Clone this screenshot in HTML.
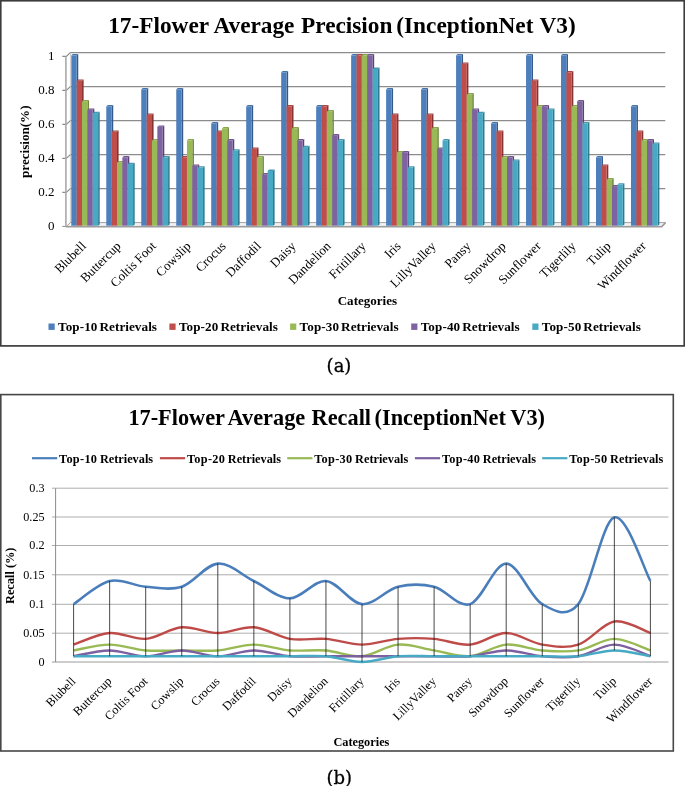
<!DOCTYPE html>
<html lang="en"><head><meta charset="utf-8"><title>17-Flower Average Precision and Recall (InceptionNet V3)</title>
<style>html,body{margin:0;padding:0;background:#fff}svg{display:block}text{font-family:"Liberation Serif","DejaVu Serif",serif;fill:#000}.b{font-weight:bold}</style>
</head><body>
<svg width="685" height="786" viewBox="0 0 685 786">
<rect x="0" y="0" width="685" height="786" fill="#fff"/>
<g id="chart-a">
<rect x="0.75" y="0.75" width="683.5" height="345.15" fill="#fff" stroke="#3c3c3c" stroke-width="1.7"/>
<text class="b" y="32.5" font-size="23.3"><tspan x="108.2">17-Flower </tspan><tspan x="213.4">Average </tspan><tspan x="301">Precision </tspan><tspan x="396.3">(InceptionNet </tspan><tspan x="539.5">V3)</tspan></text>
<path d="M62.3 226.40H66.3" fill="none" stroke="#8c8c8c" stroke-width="1"/>
<path d="M62.3 192.40H66.3L70.4 188.60H665.3" fill="none" stroke="#8c8c8c" stroke-width="1.1"/>
<path d="M62.3 158.40H66.3L70.4 154.60H665.3" fill="none" stroke="#8c8c8c" stroke-width="1.1"/>
<path d="M62.3 124.40H66.3L70.4 120.60H665.3" fill="none" stroke="#8c8c8c" stroke-width="1.1"/>
<path d="M62.3 90.40H66.3L70.4 86.60H665.3" fill="none" stroke="#8c8c8c" stroke-width="1.1"/>
<path d="M62.3 56.40H66.3L70.4 52.60H665.3" fill="none" stroke="#8c8c8c" stroke-width="1.1"/>
<path d="M65.89999999999999 56.40V226.4" stroke="#a9a9a9" stroke-width="1.6" fill="none"/>
<path d="M70.4 52.60V222.6" stroke="#c4c4c4" stroke-width="0.8" fill="none"/>
<path d="M66.3 226.4L70.4 222.6H665.3L661.4 226.4Z" fill="#f2f2f2" stroke="#8c8c8c" stroke-width="0.8"/>
<path d="M65.8 226.8H661.6999999999999L665.5999999999999 222.6" fill="none" stroke="#9c9c9c" stroke-width="1.6"/>
<path d="M76.66 55.30l1.6 -1.3V224.40l-1.6 1.3Z" fill="#34598a"/>
<path d="M71.30 55.30l1.6 -1.3h5.36l-1.6 1.3Z" fill="#4472a9"/>
<rect x="71.30" y="55.30" width="5.36" height="170.40" fill="#4c7fbc"/>
<path d="M82.02 80.80l1.6 -1.3V224.40l-1.6 1.3Z" fill="#873331"/>
<path d="M76.66 80.80l1.6 -1.3h5.36l-1.6 1.3Z" fill="#a84340"/>
<rect x="76.66" y="80.80" width="5.36" height="144.90" fill="#bf4e4b"/>
<path d="M87.38 101.20l1.6 -1.3V224.40l-1.6 1.3Z" fill="#6b8638"/>
<path d="M82.02 101.20l1.6 -1.3h5.36l-1.6 1.3Z" fill="#88a54a"/>
<rect x="82.02" y="101.20" width="5.36" height="124.50" fill="#99b956"/>
<path d="M92.74 109.70l1.6 -1.3V224.40l-1.6 1.3Z" fill="#584374"/>
<path d="M87.38 109.70l1.6 -1.3h5.36l-1.6 1.3Z" fill="#6f5690"/>
<rect x="87.38" y="109.70" width="5.36" height="116.00" fill="#7e62a1"/>
<path d="M98.10 113.10l1.6 -1.3V224.40l-1.6 1.3Z" fill="#2f7a8f"/>
<path d="M92.74 113.10l1.6 -1.3h5.36l-1.6 1.3Z" fill="#3f97b0"/>
<rect x="92.74" y="113.10" width="5.36" height="112.60" fill="#48a9c4"/>
<path d="M111.64 106.30l1.6 -1.3V224.40l-1.6 1.3Z" fill="#34598a"/>
<path d="M106.28 106.30l1.6 -1.3h5.36l-1.6 1.3Z" fill="#4472a9"/>
<rect x="106.28" y="106.30" width="5.36" height="119.40" fill="#4c7fbc"/>
<path d="M117.00 131.80l1.6 -1.3V224.40l-1.6 1.3Z" fill="#873331"/>
<path d="M111.64 131.80l1.6 -1.3h5.36l-1.6 1.3Z" fill="#a84340"/>
<rect x="111.64" y="131.80" width="5.36" height="93.90" fill="#bf4e4b"/>
<path d="M122.36 162.40l1.6 -1.3V224.40l-1.6 1.3Z" fill="#6b8638"/>
<path d="M117.00 162.40l1.6 -1.3h5.36l-1.6 1.3Z" fill="#88a54a"/>
<rect x="117.00" y="162.40" width="5.36" height="63.30" fill="#99b956"/>
<path d="M127.72 157.30l1.6 -1.3V224.40l-1.6 1.3Z" fill="#584374"/>
<path d="M122.36 157.30l1.6 -1.3h5.36l-1.6 1.3Z" fill="#6f5690"/>
<rect x="122.36" y="157.30" width="5.36" height="68.40" fill="#7e62a1"/>
<path d="M133.08 164.10l1.6 -1.3V224.40l-1.6 1.3Z" fill="#2f7a8f"/>
<path d="M127.72 164.10l1.6 -1.3h5.36l-1.6 1.3Z" fill="#3f97b0"/>
<rect x="127.72" y="164.10" width="5.36" height="61.60" fill="#48a9c4"/>
<path d="M146.62 89.30l1.6 -1.3V224.40l-1.6 1.3Z" fill="#34598a"/>
<path d="M141.26 89.30l1.6 -1.3h5.36l-1.6 1.3Z" fill="#4472a9"/>
<rect x="141.26" y="89.30" width="5.36" height="136.40" fill="#4c7fbc"/>
<path d="M151.98 114.80l1.6 -1.3V224.40l-1.6 1.3Z" fill="#873331"/>
<path d="M146.62 114.80l1.6 -1.3h5.36l-1.6 1.3Z" fill="#a84340"/>
<rect x="146.62" y="114.80" width="5.36" height="110.90" fill="#bf4e4b"/>
<path d="M157.34 140.30l1.6 -1.3V224.40l-1.6 1.3Z" fill="#6b8638"/>
<path d="M151.98 140.30l1.6 -1.3h5.36l-1.6 1.3Z" fill="#88a54a"/>
<rect x="151.98" y="140.30" width="5.36" height="85.40" fill="#99b956"/>
<path d="M162.70 126.70l1.6 -1.3V224.40l-1.6 1.3Z" fill="#584374"/>
<path d="M157.34 126.70l1.6 -1.3h5.36l-1.6 1.3Z" fill="#6f5690"/>
<rect x="157.34" y="126.70" width="5.36" height="99.00" fill="#7e62a1"/>
<path d="M168.06 157.30l1.6 -1.3V224.40l-1.6 1.3Z" fill="#2f7a8f"/>
<path d="M162.70 157.30l1.6 -1.3h5.36l-1.6 1.3Z" fill="#3f97b0"/>
<rect x="162.70" y="157.30" width="5.36" height="68.40" fill="#48a9c4"/>
<path d="M181.60 89.30l1.6 -1.3V224.40l-1.6 1.3Z" fill="#34598a"/>
<path d="M176.24 89.30l1.6 -1.3h5.36l-1.6 1.3Z" fill="#4472a9"/>
<rect x="176.24" y="89.30" width="5.36" height="136.40" fill="#4c7fbc"/>
<path d="M186.96 157.30l1.6 -1.3V224.40l-1.6 1.3Z" fill="#873331"/>
<path d="M181.60 157.30l1.6 -1.3h5.36l-1.6 1.3Z" fill="#a84340"/>
<rect x="181.60" y="157.30" width="5.36" height="68.40" fill="#bf4e4b"/>
<path d="M192.32 140.30l1.6 -1.3V224.40l-1.6 1.3Z" fill="#6b8638"/>
<path d="M186.96 140.30l1.6 -1.3h5.36l-1.6 1.3Z" fill="#88a54a"/>
<rect x="186.96" y="140.30" width="5.36" height="85.40" fill="#99b956"/>
<path d="M197.68 165.80l1.6 -1.3V224.40l-1.6 1.3Z" fill="#584374"/>
<path d="M192.32 165.80l1.6 -1.3h5.36l-1.6 1.3Z" fill="#6f5690"/>
<rect x="192.32" y="165.80" width="5.36" height="59.90" fill="#7e62a1"/>
<path d="M203.04 167.50l1.6 -1.3V224.40l-1.6 1.3Z" fill="#2f7a8f"/>
<path d="M197.68 167.50l1.6 -1.3h5.36l-1.6 1.3Z" fill="#3f97b0"/>
<rect x="197.68" y="167.50" width="5.36" height="58.20" fill="#48a9c4"/>
<path d="M216.58 123.30l1.6 -1.3V224.40l-1.6 1.3Z" fill="#34598a"/>
<path d="M211.22 123.30l1.6 -1.3h5.36l-1.6 1.3Z" fill="#4472a9"/>
<rect x="211.22" y="123.30" width="5.36" height="102.40" fill="#4c7fbc"/>
<path d="M221.94 131.80l1.6 -1.3V224.40l-1.6 1.3Z" fill="#873331"/>
<path d="M216.58 131.80l1.6 -1.3h5.36l-1.6 1.3Z" fill="#a84340"/>
<rect x="216.58" y="131.80" width="5.36" height="93.90" fill="#bf4e4b"/>
<path d="M227.30 128.40l1.6 -1.3V224.40l-1.6 1.3Z" fill="#6b8638"/>
<path d="M221.94 128.40l1.6 -1.3h5.36l-1.6 1.3Z" fill="#88a54a"/>
<rect x="221.94" y="128.40" width="5.36" height="97.30" fill="#99b956"/>
<path d="M232.66 140.30l1.6 -1.3V224.40l-1.6 1.3Z" fill="#584374"/>
<path d="M227.30 140.30l1.6 -1.3h5.36l-1.6 1.3Z" fill="#6f5690"/>
<rect x="227.30" y="140.30" width="5.36" height="85.40" fill="#7e62a1"/>
<path d="M238.02 150.50l1.6 -1.3V224.40l-1.6 1.3Z" fill="#2f7a8f"/>
<path d="M232.66 150.50l1.6 -1.3h5.36l-1.6 1.3Z" fill="#3f97b0"/>
<rect x="232.66" y="150.50" width="5.36" height="75.20" fill="#48a9c4"/>
<path d="M251.56 106.30l1.6 -1.3V224.40l-1.6 1.3Z" fill="#34598a"/>
<path d="M246.20 106.30l1.6 -1.3h5.36l-1.6 1.3Z" fill="#4472a9"/>
<rect x="246.20" y="106.30" width="5.36" height="119.40" fill="#4c7fbc"/>
<path d="M256.92 148.80l1.6 -1.3V224.40l-1.6 1.3Z" fill="#873331"/>
<path d="M251.56 148.80l1.6 -1.3h5.36l-1.6 1.3Z" fill="#a84340"/>
<rect x="251.56" y="148.80" width="5.36" height="76.90" fill="#bf4e4b"/>
<path d="M262.28 157.30l1.6 -1.3V224.40l-1.6 1.3Z" fill="#6b8638"/>
<path d="M256.92 157.30l1.6 -1.3h5.36l-1.6 1.3Z" fill="#88a54a"/>
<rect x="256.92" y="157.30" width="5.36" height="68.40" fill="#99b956"/>
<path d="M267.64 174.30l1.6 -1.3V224.40l-1.6 1.3Z" fill="#584374"/>
<path d="M262.28 174.30l1.6 -1.3h5.36l-1.6 1.3Z" fill="#6f5690"/>
<rect x="262.28" y="174.30" width="5.36" height="51.40" fill="#7e62a1"/>
<path d="M273.00 170.90l1.6 -1.3V224.40l-1.6 1.3Z" fill="#2f7a8f"/>
<path d="M267.64 170.90l1.6 -1.3h5.36l-1.6 1.3Z" fill="#3f97b0"/>
<rect x="267.64" y="170.90" width="5.36" height="54.80" fill="#48a9c4"/>
<path d="M286.54 72.30l1.6 -1.3V224.40l-1.6 1.3Z" fill="#34598a"/>
<path d="M281.18 72.30l1.6 -1.3h5.36l-1.6 1.3Z" fill="#4472a9"/>
<rect x="281.18" y="72.30" width="5.36" height="153.40" fill="#4c7fbc"/>
<path d="M291.90 106.30l1.6 -1.3V224.40l-1.6 1.3Z" fill="#873331"/>
<path d="M286.54 106.30l1.6 -1.3h5.36l-1.6 1.3Z" fill="#a84340"/>
<rect x="286.54" y="106.30" width="5.36" height="119.40" fill="#bf4e4b"/>
<path d="M297.26 128.40l1.6 -1.3V224.40l-1.6 1.3Z" fill="#6b8638"/>
<path d="M291.90 128.40l1.6 -1.3h5.36l-1.6 1.3Z" fill="#88a54a"/>
<rect x="291.90" y="128.40" width="5.36" height="97.30" fill="#99b956"/>
<path d="M302.62 140.30l1.6 -1.3V224.40l-1.6 1.3Z" fill="#584374"/>
<path d="M297.26 140.30l1.6 -1.3h5.36l-1.6 1.3Z" fill="#6f5690"/>
<rect x="297.26" y="140.30" width="5.36" height="85.40" fill="#7e62a1"/>
<path d="M307.98 147.10l1.6 -1.3V224.40l-1.6 1.3Z" fill="#2f7a8f"/>
<path d="M302.62 147.10l1.6 -1.3h5.36l-1.6 1.3Z" fill="#3f97b0"/>
<rect x="302.62" y="147.10" width="5.36" height="78.60" fill="#48a9c4"/>
<path d="M321.52 106.30l1.6 -1.3V224.40l-1.6 1.3Z" fill="#34598a"/>
<path d="M316.16 106.30l1.6 -1.3h5.36l-1.6 1.3Z" fill="#4472a9"/>
<rect x="316.16" y="106.30" width="5.36" height="119.40" fill="#4c7fbc"/>
<path d="M326.88 106.30l1.6 -1.3V224.40l-1.6 1.3Z" fill="#873331"/>
<path d="M321.52 106.30l1.6 -1.3h5.36l-1.6 1.3Z" fill="#a84340"/>
<rect x="321.52" y="106.30" width="5.36" height="119.40" fill="#bf4e4b"/>
<path d="M332.24 111.40l1.6 -1.3V224.40l-1.6 1.3Z" fill="#6b8638"/>
<path d="M326.88 111.40l1.6 -1.3h5.36l-1.6 1.3Z" fill="#88a54a"/>
<rect x="326.88" y="111.40" width="5.36" height="114.30" fill="#99b956"/>
<path d="M337.60 135.20l1.6 -1.3V224.40l-1.6 1.3Z" fill="#584374"/>
<path d="M332.24 135.20l1.6 -1.3h5.36l-1.6 1.3Z" fill="#6f5690"/>
<rect x="332.24" y="135.20" width="5.36" height="90.50" fill="#7e62a1"/>
<path d="M342.96 140.30l1.6 -1.3V224.40l-1.6 1.3Z" fill="#2f7a8f"/>
<path d="M337.60 140.30l1.6 -1.3h5.36l-1.6 1.3Z" fill="#3f97b0"/>
<rect x="337.60" y="140.30" width="5.36" height="85.40" fill="#48a9c4"/>
<path d="M356.50 55.30l1.6 -1.3V224.40l-1.6 1.3Z" fill="#34598a"/>
<path d="M351.14 55.30l1.6 -1.3h5.36l-1.6 1.3Z" fill="#4472a9"/>
<rect x="351.14" y="55.30" width="5.36" height="170.40" fill="#4c7fbc"/>
<path d="M361.86 55.30l1.6 -1.3V224.40l-1.6 1.3Z" fill="#873331"/>
<path d="M356.50 55.30l1.6 -1.3h5.36l-1.6 1.3Z" fill="#a84340"/>
<rect x="356.50" y="55.30" width="5.36" height="170.40" fill="#bf4e4b"/>
<path d="M367.22 55.30l1.6 -1.3V224.40l-1.6 1.3Z" fill="#6b8638"/>
<path d="M361.86 55.30l1.6 -1.3h5.36l-1.6 1.3Z" fill="#88a54a"/>
<rect x="361.86" y="55.30" width="5.36" height="170.40" fill="#99b956"/>
<path d="M372.58 55.30l1.6 -1.3V224.40l-1.6 1.3Z" fill="#584374"/>
<path d="M367.22 55.30l1.6 -1.3h5.36l-1.6 1.3Z" fill="#6f5690"/>
<rect x="367.22" y="55.30" width="5.36" height="170.40" fill="#7e62a1"/>
<path d="M377.94 68.90l1.6 -1.3V224.40l-1.6 1.3Z" fill="#2f7a8f"/>
<path d="M372.58 68.90l1.6 -1.3h5.36l-1.6 1.3Z" fill="#3f97b0"/>
<rect x="372.58" y="68.90" width="5.36" height="156.80" fill="#48a9c4"/>
<path d="M391.48 89.30l1.6 -1.3V224.40l-1.6 1.3Z" fill="#34598a"/>
<path d="M386.12 89.30l1.6 -1.3h5.36l-1.6 1.3Z" fill="#4472a9"/>
<rect x="386.12" y="89.30" width="5.36" height="136.40" fill="#4c7fbc"/>
<path d="M396.84 114.80l1.6 -1.3V224.40l-1.6 1.3Z" fill="#873331"/>
<path d="M391.48 114.80l1.6 -1.3h5.36l-1.6 1.3Z" fill="#a84340"/>
<rect x="391.48" y="114.80" width="5.36" height="110.90" fill="#bf4e4b"/>
<path d="M402.20 152.20l1.6 -1.3V224.40l-1.6 1.3Z" fill="#6b8638"/>
<path d="M396.84 152.20l1.6 -1.3h5.36l-1.6 1.3Z" fill="#88a54a"/>
<rect x="396.84" y="152.20" width="5.36" height="73.50" fill="#99b956"/>
<path d="M407.56 152.20l1.6 -1.3V224.40l-1.6 1.3Z" fill="#584374"/>
<path d="M402.20 152.20l1.6 -1.3h5.36l-1.6 1.3Z" fill="#6f5690"/>
<rect x="402.20" y="152.20" width="5.36" height="73.50" fill="#7e62a1"/>
<path d="M412.92 167.50l1.6 -1.3V224.40l-1.6 1.3Z" fill="#2f7a8f"/>
<path d="M407.56 167.50l1.6 -1.3h5.36l-1.6 1.3Z" fill="#3f97b0"/>
<rect x="407.56" y="167.50" width="5.36" height="58.20" fill="#48a9c4"/>
<path d="M426.46 89.30l1.6 -1.3V224.40l-1.6 1.3Z" fill="#34598a"/>
<path d="M421.10 89.30l1.6 -1.3h5.36l-1.6 1.3Z" fill="#4472a9"/>
<rect x="421.10" y="89.30" width="5.36" height="136.40" fill="#4c7fbc"/>
<path d="M431.82 114.80l1.6 -1.3V224.40l-1.6 1.3Z" fill="#873331"/>
<path d="M426.46 114.80l1.6 -1.3h5.36l-1.6 1.3Z" fill="#a84340"/>
<rect x="426.46" y="114.80" width="5.36" height="110.90" fill="#bf4e4b"/>
<path d="M437.18 128.40l1.6 -1.3V224.40l-1.6 1.3Z" fill="#6b8638"/>
<path d="M431.82 128.40l1.6 -1.3h5.36l-1.6 1.3Z" fill="#88a54a"/>
<rect x="431.82" y="128.40" width="5.36" height="97.30" fill="#99b956"/>
<path d="M442.54 148.80l1.6 -1.3V224.40l-1.6 1.3Z" fill="#584374"/>
<path d="M437.18 148.80l1.6 -1.3h5.36l-1.6 1.3Z" fill="#6f5690"/>
<rect x="437.18" y="148.80" width="5.36" height="76.90" fill="#7e62a1"/>
<path d="M447.90 140.30l1.6 -1.3V224.40l-1.6 1.3Z" fill="#2f7a8f"/>
<path d="M442.54 140.30l1.6 -1.3h5.36l-1.6 1.3Z" fill="#3f97b0"/>
<rect x="442.54" y="140.30" width="5.36" height="85.40" fill="#48a9c4"/>
<path d="M461.44 55.30l1.6 -1.3V224.40l-1.6 1.3Z" fill="#34598a"/>
<path d="M456.08 55.30l1.6 -1.3h5.36l-1.6 1.3Z" fill="#4472a9"/>
<rect x="456.08" y="55.30" width="5.36" height="170.40" fill="#4c7fbc"/>
<path d="M466.80 63.80l1.6 -1.3V224.40l-1.6 1.3Z" fill="#873331"/>
<path d="M461.44 63.80l1.6 -1.3h5.36l-1.6 1.3Z" fill="#a84340"/>
<rect x="461.44" y="63.80" width="5.36" height="161.90" fill="#bf4e4b"/>
<path d="M472.16 94.40l1.6 -1.3V224.40l-1.6 1.3Z" fill="#6b8638"/>
<path d="M466.80 94.40l1.6 -1.3h5.36l-1.6 1.3Z" fill="#88a54a"/>
<rect x="466.80" y="94.40" width="5.36" height="131.30" fill="#99b956"/>
<path d="M477.52 109.70l1.6 -1.3V224.40l-1.6 1.3Z" fill="#584374"/>
<path d="M472.16 109.70l1.6 -1.3h5.36l-1.6 1.3Z" fill="#6f5690"/>
<rect x="472.16" y="109.70" width="5.36" height="116.00" fill="#7e62a1"/>
<path d="M482.88 113.10l1.6 -1.3V224.40l-1.6 1.3Z" fill="#2f7a8f"/>
<path d="M477.52 113.10l1.6 -1.3h5.36l-1.6 1.3Z" fill="#3f97b0"/>
<rect x="477.52" y="113.10" width="5.36" height="112.60" fill="#48a9c4"/>
<path d="M496.42 123.30l1.6 -1.3V224.40l-1.6 1.3Z" fill="#34598a"/>
<path d="M491.06 123.30l1.6 -1.3h5.36l-1.6 1.3Z" fill="#4472a9"/>
<rect x="491.06" y="123.30" width="5.36" height="102.40" fill="#4c7fbc"/>
<path d="M501.78 131.80l1.6 -1.3V224.40l-1.6 1.3Z" fill="#873331"/>
<path d="M496.42 131.80l1.6 -1.3h5.36l-1.6 1.3Z" fill="#a84340"/>
<rect x="496.42" y="131.80" width="5.36" height="93.90" fill="#bf4e4b"/>
<path d="M507.14 157.30l1.6 -1.3V224.40l-1.6 1.3Z" fill="#6b8638"/>
<path d="M501.78 157.30l1.6 -1.3h5.36l-1.6 1.3Z" fill="#88a54a"/>
<rect x="501.78" y="157.30" width="5.36" height="68.40" fill="#99b956"/>
<path d="M512.50 157.30l1.6 -1.3V224.40l-1.6 1.3Z" fill="#584374"/>
<path d="M507.14 157.30l1.6 -1.3h5.36l-1.6 1.3Z" fill="#6f5690"/>
<rect x="507.14" y="157.30" width="5.36" height="68.40" fill="#7e62a1"/>
<path d="M517.86 160.70l1.6 -1.3V224.40l-1.6 1.3Z" fill="#2f7a8f"/>
<path d="M512.50 160.70l1.6 -1.3h5.36l-1.6 1.3Z" fill="#3f97b0"/>
<rect x="512.50" y="160.70" width="5.36" height="65.00" fill="#48a9c4"/>
<path d="M531.40 55.30l1.6 -1.3V224.40l-1.6 1.3Z" fill="#34598a"/>
<path d="M526.04 55.30l1.6 -1.3h5.36l-1.6 1.3Z" fill="#4472a9"/>
<rect x="526.04" y="55.30" width="5.36" height="170.40" fill="#4c7fbc"/>
<path d="M536.76 80.80l1.6 -1.3V224.40l-1.6 1.3Z" fill="#873331"/>
<path d="M531.40 80.80l1.6 -1.3h5.36l-1.6 1.3Z" fill="#a84340"/>
<rect x="531.40" y="80.80" width="5.36" height="144.90" fill="#bf4e4b"/>
<path d="M542.12 106.30l1.6 -1.3V224.40l-1.6 1.3Z" fill="#6b8638"/>
<path d="M536.76 106.30l1.6 -1.3h5.36l-1.6 1.3Z" fill="#88a54a"/>
<rect x="536.76" y="106.30" width="5.36" height="119.40" fill="#99b956"/>
<path d="M547.48 106.30l1.6 -1.3V224.40l-1.6 1.3Z" fill="#584374"/>
<path d="M542.12 106.30l1.6 -1.3h5.36l-1.6 1.3Z" fill="#6f5690"/>
<rect x="542.12" y="106.30" width="5.36" height="119.40" fill="#7e62a1"/>
<path d="M552.84 109.70l1.6 -1.3V224.40l-1.6 1.3Z" fill="#2f7a8f"/>
<path d="M547.48 109.70l1.6 -1.3h5.36l-1.6 1.3Z" fill="#3f97b0"/>
<rect x="547.48" y="109.70" width="5.36" height="116.00" fill="#48a9c4"/>
<path d="M566.38 55.30l1.6 -1.3V224.40l-1.6 1.3Z" fill="#34598a"/>
<path d="M561.02 55.30l1.6 -1.3h5.36l-1.6 1.3Z" fill="#4472a9"/>
<rect x="561.02" y="55.30" width="5.36" height="170.40" fill="#4c7fbc"/>
<path d="M571.74 72.30l1.6 -1.3V224.40l-1.6 1.3Z" fill="#873331"/>
<path d="M566.38 72.30l1.6 -1.3h5.36l-1.6 1.3Z" fill="#a84340"/>
<rect x="566.38" y="72.30" width="5.36" height="153.40" fill="#bf4e4b"/>
<path d="M577.10 106.30l1.6 -1.3V224.40l-1.6 1.3Z" fill="#6b8638"/>
<path d="M571.74 106.30l1.6 -1.3h5.36l-1.6 1.3Z" fill="#88a54a"/>
<rect x="571.74" y="106.30" width="5.36" height="119.40" fill="#99b956"/>
<path d="M582.46 101.20l1.6 -1.3V224.40l-1.6 1.3Z" fill="#584374"/>
<path d="M577.10 101.20l1.6 -1.3h5.36l-1.6 1.3Z" fill="#6f5690"/>
<rect x="577.10" y="101.20" width="5.36" height="124.50" fill="#7e62a1"/>
<path d="M587.82 123.30l1.6 -1.3V224.40l-1.6 1.3Z" fill="#2f7a8f"/>
<path d="M582.46 123.30l1.6 -1.3h5.36l-1.6 1.3Z" fill="#3f97b0"/>
<rect x="582.46" y="123.30" width="5.36" height="102.40" fill="#48a9c4"/>
<path d="M601.36 157.30l1.6 -1.3V224.40l-1.6 1.3Z" fill="#34598a"/>
<path d="M596.00 157.30l1.6 -1.3h5.36l-1.6 1.3Z" fill="#4472a9"/>
<rect x="596.00" y="157.30" width="5.36" height="68.40" fill="#4c7fbc"/>
<path d="M606.72 165.80l1.6 -1.3V224.40l-1.6 1.3Z" fill="#873331"/>
<path d="M601.36 165.80l1.6 -1.3h5.36l-1.6 1.3Z" fill="#a84340"/>
<rect x="601.36" y="165.80" width="5.36" height="59.90" fill="#bf4e4b"/>
<path d="M612.08 179.40l1.6 -1.3V224.40l-1.6 1.3Z" fill="#6b8638"/>
<path d="M606.72 179.40l1.6 -1.3h5.36l-1.6 1.3Z" fill="#88a54a"/>
<rect x="606.72" y="179.40" width="5.36" height="46.30" fill="#99b956"/>
<path d="M617.44 186.20l1.6 -1.3V224.40l-1.6 1.3Z" fill="#584374"/>
<path d="M612.08 186.20l1.6 -1.3h5.36l-1.6 1.3Z" fill="#6f5690"/>
<rect x="612.08" y="186.20" width="5.36" height="39.50" fill="#7e62a1"/>
<path d="M622.80 184.50l1.6 -1.3V224.40l-1.6 1.3Z" fill="#2f7a8f"/>
<path d="M617.44 184.50l1.6 -1.3h5.36l-1.6 1.3Z" fill="#3f97b0"/>
<rect x="617.44" y="184.50" width="5.36" height="41.20" fill="#48a9c4"/>
<path d="M636.34 106.30l1.6 -1.3V224.40l-1.6 1.3Z" fill="#34598a"/>
<path d="M630.98 106.30l1.6 -1.3h5.36l-1.6 1.3Z" fill="#4472a9"/>
<rect x="630.98" y="106.30" width="5.36" height="119.40" fill="#4c7fbc"/>
<path d="M641.70 131.80l1.6 -1.3V224.40l-1.6 1.3Z" fill="#873331"/>
<path d="M636.34 131.80l1.6 -1.3h5.36l-1.6 1.3Z" fill="#a84340"/>
<rect x="636.34" y="131.80" width="5.36" height="93.90" fill="#bf4e4b"/>
<path d="M647.06 140.30l1.6 -1.3V224.40l-1.6 1.3Z" fill="#6b8638"/>
<path d="M641.70 140.30l1.6 -1.3h5.36l-1.6 1.3Z" fill="#88a54a"/>
<rect x="641.70" y="140.30" width="5.36" height="85.40" fill="#99b956"/>
<path d="M652.42 140.30l1.6 -1.3V224.40l-1.6 1.3Z" fill="#584374"/>
<path d="M647.06 140.30l1.6 -1.3h5.36l-1.6 1.3Z" fill="#6f5690"/>
<rect x="647.06" y="140.30" width="5.36" height="85.40" fill="#7e62a1"/>
<path d="M657.78 143.70l1.6 -1.3V224.40l-1.6 1.3Z" fill="#2f7a8f"/>
<path d="M652.42 143.70l1.6 -1.3h5.36l-1.6 1.3Z" fill="#3f97b0"/>
<rect x="652.42" y="143.70" width="5.36" height="82.00" fill="#48a9c4"/>
<text x="54.6" y="230.20" font-size="13" text-anchor="end">0</text>
<text x="54.6" y="196.20" font-size="13" text-anchor="end">0.2</text>
<text x="54.6" y="162.20" font-size="13" text-anchor="end">0.4</text>
<text x="54.6" y="128.20" font-size="13" text-anchor="end">0.6</text>
<text x="54.6" y="94.20" font-size="13" text-anchor="end">0.8</text>
<text x="54.6" y="60.20" font-size="13" text-anchor="end">1</text>
<text class="b" transform="translate(28.8 141.7) rotate(-90)" font-size="13.1" text-anchor="middle" textLength="72.6" lengthAdjust="spacingAndGlyphs">precision(%)</text>
<text transform="translate(86.70 246.80) rotate(-45)" font-size="13" text-anchor="end">Blubell</text>
<text transform="translate(121.70 246.80) rotate(-45)" font-size="13" text-anchor="end">Buttercup</text>
<text transform="translate(156.70 246.80) rotate(-45)" font-size="13" text-anchor="end">Coltis Foot</text>
<text transform="translate(191.70 246.80) rotate(-45)" font-size="13" text-anchor="end">Cowslip</text>
<text transform="translate(226.70 246.80) rotate(-45)" font-size="13" text-anchor="end">Crocus</text>
<text transform="translate(261.70 246.80) rotate(-45)" font-size="13" text-anchor="end">Daffodil</text>
<text transform="translate(296.70 246.80) rotate(-45)" font-size="13" text-anchor="end">Daisy</text>
<text transform="translate(331.70 246.80) rotate(-45)" font-size="13" text-anchor="end">Dandelion</text>
<text transform="translate(366.70 246.80) rotate(-45)" font-size="13" text-anchor="end">Fritillary</text>
<text transform="translate(401.70 246.80) rotate(-45)" font-size="13" text-anchor="end">Iris</text>
<text transform="translate(436.70 246.80) rotate(-45)" font-size="13" text-anchor="end">LillyValley</text>
<text transform="translate(471.70 246.80) rotate(-45)" font-size="13" text-anchor="end">Pansy</text>
<text transform="translate(506.70 246.80) rotate(-45)" font-size="13" text-anchor="end">Snowdrop</text>
<text transform="translate(541.70 246.80) rotate(-45)" font-size="13" text-anchor="end">Sunflower</text>
<text transform="translate(576.70 246.80) rotate(-45)" font-size="13" text-anchor="end">Tigerlily</text>
<text transform="translate(611.70 246.80) rotate(-45)" font-size="13" text-anchor="end">Tulip</text>
<text transform="translate(646.70 246.80) rotate(-45)" font-size="13" text-anchor="end">Windflower</text>
<text class="b" x="367.4" y="305.2" font-size="13.1" text-anchor="middle" textLength="59.4" lengthAdjust="spacingAndGlyphs">Categories</text>
<rect x="48.5" y="323.5" width="6.2" height="6.4" fill="#4c7fbc"/>
<text class="b" y="331.1" font-size="13.1"><tspan x="58.0" textLength="39.4" lengthAdjust="spacing">Top-10</tspan><tspan> </tspan><tspan x="99.5" textLength="57.5" lengthAdjust="spacingAndGlyphs">Retrievals</tspan></text>
<rect x="169.4" y="323.5" width="6.2" height="6.4" fill="#bf4e4b"/>
<text class="b" y="331.1" font-size="13.1"><tspan x="178.9" textLength="39.4" lengthAdjust="spacing">Top-20</tspan><tspan> </tspan><tspan x="220.4" textLength="57.5" lengthAdjust="spacingAndGlyphs">Retrievals</tspan></text>
<rect x="290.1" y="323.5" width="6.2" height="6.4" fill="#99b956"/>
<text class="b" y="331.1" font-size="13.1"><tspan x="299.6" textLength="39.4" lengthAdjust="spacing">Top-30</tspan><tspan> </tspan><tspan x="341.1" textLength="57.5" lengthAdjust="spacingAndGlyphs">Retrievals</tspan></text>
<rect x="411.2" y="323.5" width="6.2" height="6.4" fill="#7e62a1"/>
<text class="b" y="331.1" font-size="13.1"><tspan x="420.7" textLength="39.4" lengthAdjust="spacing">Top-40</tspan><tspan> </tspan><tspan x="462.2" textLength="57.5" lengthAdjust="spacingAndGlyphs">Retrievals</tspan></text>
<rect x="532.3" y="323.5" width="6.2" height="6.4" fill="#48a9c4"/>
<text class="b" y="331.1" font-size="13.1"><tspan x="541.8" textLength="39.4" lengthAdjust="spacing">Top-50</tspan><tspan> </tspan><tspan x="583.3" textLength="57.5" lengthAdjust="spacingAndGlyphs">Retrievals</tspan></text>
</g>
<text x="339" y="371.8" font-size="18" text-anchor="middle" stroke="#000" stroke-width="0.3" style="font-family:'DejaVu Serif',serif">(a)</text>
<g id="chart-b">
<rect x="0.8" y="394.6" width="672.5" height="356.4" fill="#fff" stroke="#474747" stroke-width="1.6"/>
<text class="b" y="424.6" font-size="22.3"><tspan x="128.4">17-Flower </tspan><tspan x="227.6">Average </tspan><tspan x="311.6">Recall </tspan><tspan x="374.6">(InceptionNet </tspan><tspan x="510.3">V3)</tspan></text>
<path d="M32.0 458.2h25.2" stroke="#4a7ebb" stroke-width="2.2" fill="none"/>
<text class="b" y="462.5" font-size="12.3"><tspan x="59.0" textLength="38" lengthAdjust="spacing">Top-10</tspan><tspan> </tspan><tspan x="99.9" textLength="53.2" lengthAdjust="spacingAndGlyphs">Retrievals</tspan></text>
<path d="M159.9 458.2h25.2" stroke="#be4b48" stroke-width="2.2" fill="none"/>
<text class="b" y="462.5" font-size="12.3"><tspan x="186.9" textLength="38" lengthAdjust="spacing">Top-20</tspan><tspan> </tspan><tspan x="227.8" textLength="53.2" lengthAdjust="spacingAndGlyphs">Retrievals</tspan></text>
<path d="M287.2 458.2h25.2" stroke="#98b954" stroke-width="2.2" fill="none"/>
<text class="b" y="462.5" font-size="12.3"><tspan x="314.2" textLength="38" lengthAdjust="spacing">Top-30</tspan><tspan> </tspan><tspan x="355.1" textLength="53.2" lengthAdjust="spacingAndGlyphs">Retrievals</tspan></text>
<path d="M414.9 458.2h25.2" stroke="#7d60a0" stroke-width="2.2" fill="none"/>
<text class="b" y="462.5" font-size="12.3"><tspan x="441.9" textLength="38" lengthAdjust="spacing">Top-40</tspan><tspan> </tspan><tspan x="482.8" textLength="53.2" lengthAdjust="spacingAndGlyphs">Retrievals</tspan></text>
<path d="M542.2 458.2h25.2" stroke="#46aac5" stroke-width="2.2" fill="none"/>
<text class="b" y="462.5" font-size="12.3"><tspan x="569.2" textLength="38" lengthAdjust="spacing">Top-50</tspan><tspan> </tspan><tspan x="610.1" textLength="53.2" lengthAdjust="spacingAndGlyphs">Retrievals</tspan></text>
<path d="M51.9 662.00H668.4" stroke="#9a9a9a" stroke-width="1" fill="none"/>
<text x="44.6" y="665.70" font-size="12.2" text-anchor="end">0</text>
<path d="M51.9 633.20H668.4" stroke="#adadad" stroke-width="1" fill="none"/>
<text x="44.6" y="636.90" font-size="12.2" text-anchor="end">0.05</text>
<path d="M51.9 604.30H668.4" stroke="#adadad" stroke-width="1" fill="none"/>
<text x="44.6" y="608.00" font-size="12.2" text-anchor="end">0.1</text>
<path d="M51.9 574.80H668.4" stroke="#adadad" stroke-width="1" fill="none"/>
<text x="44.6" y="578.50" font-size="12.2" text-anchor="end">0.15</text>
<path d="M51.9 545.50H668.4" stroke="#adadad" stroke-width="1" fill="none"/>
<text x="44.6" y="549.20" font-size="12.2" text-anchor="end">0.2</text>
<path d="M51.9 517.00H668.4" stroke="#adadad" stroke-width="1" fill="none"/>
<text x="44.6" y="520.70" font-size="12.2" text-anchor="end">0.25</text>
<path d="M51.9 488.20H668.4" stroke="#adadad" stroke-width="1" fill="none"/>
<text x="44.6" y="491.90" font-size="12.2" text-anchor="end">0.3</text>
<path d="M55.6 488.39V662.0" stroke="#8a8a8a" stroke-width="1" fill="none"/>
<path d="M73.60 604.13C79.61 600.27 97.63 583.88 109.65 580.98C121.67 578.09 133.68 585.80 145.70 586.77C157.72 587.73 169.73 590.63 181.75 586.77C193.77 582.91 205.78 564.59 217.80 563.62C229.82 562.66 241.83 575.19 253.85 580.98C265.87 586.77 277.88 598.34 289.90 598.34C301.92 598.34 313.93 580.02 325.95 580.98C337.97 581.95 349.98 603.17 362.00 604.13C374.02 605.09 386.03 589.66 398.05 586.77C410.07 583.88 422.08 583.88 434.10 586.77C446.12 589.66 458.13 607.99 470.15 604.13C482.17 600.27 494.18 563.62 506.20 563.62C518.22 563.62 530.23 597.38 542.25 604.13C554.27 610.88 566.28 618.60 578.30 604.13C590.32 589.66 602.33 521.18 614.35 517.33C626.37 513.47 644.39 570.37 650.40 580.98" fill="none" stroke="#4a7ebb" stroke-width="2.55" stroke-linecap="butt" stroke-linejoin="round"/>
<path d="M73.60 644.64C79.61 642.71 97.63 634.03 109.65 633.07C121.67 632.10 133.68 639.82 145.70 638.85C157.72 637.89 169.73 628.24 181.75 627.28C193.77 626.31 205.78 633.07 217.80 633.07C229.82 633.07 241.83 626.31 253.85 627.28C265.87 628.24 277.88 636.92 289.90 638.85C301.92 640.78 313.93 637.89 325.95 638.85C337.97 639.82 349.98 644.64 362.00 644.64C374.02 644.64 386.03 639.82 398.05 638.85C410.07 637.89 422.08 637.89 434.10 638.85C446.12 639.82 458.13 645.60 470.15 644.64C482.17 643.67 494.18 633.07 506.20 633.07C518.22 633.07 530.23 642.71 542.25 644.64C554.27 646.57 566.28 648.50 578.30 644.64C590.32 640.78 602.33 623.42 614.35 621.49C626.37 619.56 644.39 631.14 650.40 633.07" fill="none" stroke="#be4b48" stroke-width="2.4" stroke-linecap="butt" stroke-linejoin="round"/>
<path d="M73.60 650.43C79.61 649.46 97.63 644.64 109.65 644.64C121.67 644.64 133.68 649.46 145.70 650.43C157.72 651.39 169.73 650.43 181.75 650.43C193.77 650.43 205.78 651.39 217.80 650.43C229.82 649.46 241.83 644.64 253.85 644.64C265.87 644.64 277.88 649.46 289.90 650.43C301.92 651.39 313.93 649.46 325.95 650.43C337.97 651.39 349.98 657.18 362.00 656.21C374.02 655.25 386.03 645.60 398.05 644.64C410.07 643.67 422.08 648.50 434.10 650.43C446.12 652.36 458.13 657.18 470.15 656.21C482.17 655.25 494.18 645.60 506.20 644.64C518.22 643.67 530.23 649.46 542.25 650.43C554.27 651.39 566.28 652.36 578.30 650.43C590.32 648.50 602.33 638.85 614.35 638.85C626.37 638.85 644.39 648.50 650.40 650.43" fill="none" stroke="#98b954" stroke-width="2.4" stroke-linecap="butt" stroke-linejoin="round"/>
<path d="M73.60 656.21C79.61 655.25 97.63 650.43 109.65 650.43C121.67 650.43 133.68 656.21 145.70 656.21C157.72 656.21 169.73 650.43 181.75 650.43C193.77 650.43 205.78 656.21 217.80 656.21C229.82 656.21 241.83 650.43 253.85 650.43C265.87 650.43 277.88 655.25 289.90 656.21C301.92 657.18 313.93 656.21 325.95 656.21C337.97 656.21 349.98 656.21 362.00 656.21C374.02 656.21 386.03 656.21 398.05 656.21C410.07 656.21 422.08 656.21 434.10 656.21C446.12 656.21 458.13 657.18 470.15 656.21C482.17 655.25 494.18 650.43 506.20 650.43C518.22 650.43 530.23 655.25 542.25 656.21C554.27 657.18 566.28 658.14 578.30 656.21C590.32 654.28 602.33 644.64 614.35 644.64C626.37 644.64 644.39 654.28 650.40 656.21" fill="none" stroke="#7d60a0" stroke-width="2.4" stroke-linecap="butt" stroke-linejoin="round"/>
<path d="M73.60 656.21C79.61 656.21 97.63 656.21 109.65 656.21C121.67 656.21 133.68 656.21 145.70 656.21C157.72 656.21 169.73 656.21 181.75 656.21C193.77 656.21 205.78 656.21 217.80 656.21C229.82 656.21 241.83 656.21 253.85 656.21C265.87 656.21 277.88 656.21 289.90 656.21C301.92 656.21 313.93 655.25 325.95 656.21C337.97 657.18 349.98 662.00 362.00 662.00C374.02 662.00 386.03 657.18 398.05 656.21C410.07 655.25 422.08 656.21 434.10 656.21C446.12 656.21 458.13 656.21 470.15 656.21C482.17 656.21 494.18 656.21 506.20 656.21C518.22 656.21 530.23 656.21 542.25 656.21C554.27 656.21 566.28 657.18 578.30 656.21C590.32 655.25 602.33 650.43 614.35 650.43C626.37 650.43 644.39 655.25 650.40 656.21" fill="none" stroke="#46aac5" stroke-width="2.4" stroke-linecap="butt" stroke-linejoin="round"/>
<path d="M73.60 604.13V656.21" stroke="#1a1a1a" stroke-width="0.8" fill="none"/>
<path d="M109.65 580.98V656.21" stroke="#1a1a1a" stroke-width="0.8" fill="none"/>
<path d="M145.70 586.77V656.21" stroke="#1a1a1a" stroke-width="0.8" fill="none"/>
<path d="M181.75 586.77V656.21" stroke="#1a1a1a" stroke-width="0.8" fill="none"/>
<path d="M217.80 563.62V656.21" stroke="#1a1a1a" stroke-width="0.8" fill="none"/>
<path d="M253.85 580.98V656.21" stroke="#1a1a1a" stroke-width="0.8" fill="none"/>
<path d="M289.90 598.34V656.21" stroke="#1a1a1a" stroke-width="0.8" fill="none"/>
<path d="M325.95 580.98V656.21" stroke="#1a1a1a" stroke-width="0.8" fill="none"/>
<path d="M362.00 604.13V662.00" stroke="#1a1a1a" stroke-width="0.8" fill="none"/>
<path d="M398.05 586.77V656.21" stroke="#1a1a1a" stroke-width="0.8" fill="none"/>
<path d="M434.10 586.77V656.21" stroke="#1a1a1a" stroke-width="0.8" fill="none"/>
<path d="M470.15 604.13V656.21" stroke="#1a1a1a" stroke-width="0.8" fill="none"/>
<path d="M506.20 563.62V656.21" stroke="#1a1a1a" stroke-width="0.8" fill="none"/>
<path d="M542.25 604.13V656.21" stroke="#1a1a1a" stroke-width="0.8" fill="none"/>
<path d="M578.30 604.13V656.21" stroke="#1a1a1a" stroke-width="0.8" fill="none"/>
<path d="M614.35 517.33V650.43" stroke="#1a1a1a" stroke-width="0.8" fill="none"/>
<path d="M650.40 580.98V656.21" stroke="#1a1a1a" stroke-width="0.8" fill="none"/>
<text class="b" transform="translate(13.7 575.8) rotate(-90)" font-size="12.4" text-anchor="middle" textLength="56.4" lengthAdjust="spacingAndGlyphs">Recall (%)</text>
<text transform="translate(76.30 682.00) rotate(-45)" font-size="12.3" text-anchor="end">Blubell</text>
<text transform="translate(112.35 682.00) rotate(-45)" font-size="12.3" text-anchor="end">Buttercup</text>
<text transform="translate(148.40 682.00) rotate(-45)" font-size="12.3" text-anchor="end">Coltis Foot</text>
<text transform="translate(184.45 682.00) rotate(-45)" font-size="12.3" text-anchor="end">Cowslip</text>
<text transform="translate(220.50 682.00) rotate(-45)" font-size="12.3" text-anchor="end">Crocus</text>
<text transform="translate(256.55 682.00) rotate(-45)" font-size="12.3" text-anchor="end">Daffodil</text>
<text transform="translate(292.60 682.00) rotate(-45)" font-size="12.3" text-anchor="end">Daisy</text>
<text transform="translate(328.65 682.00) rotate(-45)" font-size="12.3" text-anchor="end">Dandelion</text>
<text transform="translate(364.70 682.00) rotate(-45)" font-size="12.3" text-anchor="end">Fritillary</text>
<text transform="translate(400.75 682.00) rotate(-45)" font-size="12.3" text-anchor="end">Iris</text>
<text transform="translate(436.80 682.00) rotate(-45)" font-size="12.3" text-anchor="end">LillyValley</text>
<text transform="translate(472.85 682.00) rotate(-45)" font-size="12.3" text-anchor="end">Pansy</text>
<text transform="translate(508.90 682.00) rotate(-45)" font-size="12.3" text-anchor="end">Snowdrop</text>
<text transform="translate(544.95 682.00) rotate(-45)" font-size="12.3" text-anchor="end">Sunflower</text>
<text transform="translate(581.00 682.00) rotate(-45)" font-size="12.3" text-anchor="end">Tigerlily</text>
<text transform="translate(617.05 682.00) rotate(-45)" font-size="12.3" text-anchor="end">Tulip</text>
<text transform="translate(653.10 682.00) rotate(-45)" font-size="12.3" text-anchor="end">Windflower</text>
<text class="b" x="361.4" y="746" font-size="12.4" text-anchor="middle" textLength="56" lengthAdjust="spacingAndGlyphs">Categories</text>
</g>
<text x="339.2" y="783.8" font-size="18" text-anchor="middle" stroke="#000" stroke-width="0.3" style="font-family:'DejaVu Serif',serif">(b)</text>
</svg>
</body></html>
